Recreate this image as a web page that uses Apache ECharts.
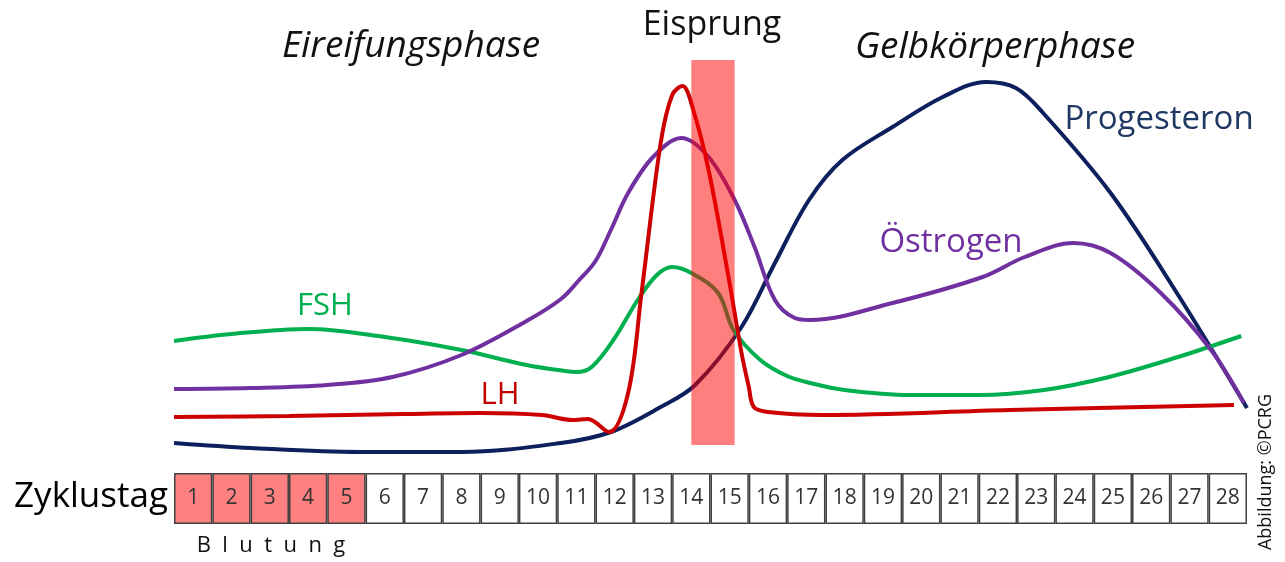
<!DOCTYPE html>
<html>
<head>
<meta charset="utf-8">
<script src="https://cdn.jsdelivr.net/npm/echarts@6/dist/echarts.min.js"></script>
<style>
  html, body { margin: 0; padding: 0; background: #fff; }
  #chart { width: 1285px; height: 562px; }
</style>
</head>
<body>
<div id="chart"></div>
<script>
// Zyklustage (Kästchen unten)
const days = Array.from({length: 28}, (_, i) => String(i + 1));
const bleedingDays = 5;

// Hormonkurven: [Zyklusposition in Tagen, relativer Spiegel]
const fsh = [[0,132],[1.5,139],[3.5,144],[5.5,136],[7.5,123],[9.2,108],[10.2,102],[10.5,101],[10.9,106],
  [11.5,135],[12.1,173],[12.6,198],[13.0,206],[13.5,200],[14.2,180],[14.6,143],[15.3,113],[16.0,97],
  [16.6,90],[17.5,83],[19.2,78],[21,78],[22.7,83],[24.4,96],[26.2,116],[27.85,137]];
const lh = [[0,56],[3,57],[6,59],[8,60],[9.6,58],[10.4,53],[10.8,54],[11.35,41],[11.85,80],[12.2,180],
  [12.7,330],[13.0,378],[13.27,387],[13.55,363],[13.95,303],[14.47,196],[14.81,120],[15.0,86],[15.13,66],
  [15.5,61],[16.9,58],[21.8,63],[27.66,68]];
const estrogen = [[0,84],[2,85],[4,88],[5.7,96],[7.5,118],[9.2,152],[10.1,174],[10.55,192],[11,212],
  [11.4,243],[11.85,280],[12.5,316],[13.24,335],[13.95,316],[14.63,273],[15.15,226],[15.68,173],[16.2,155],
  [16.6,153],[18.75,170],[21.1,196],[22.2,216],[23.47,230],[24.44,220],[25.75,180],[27.06,123],[27.92,70]];
const progesterone = [[0,30],[2,25],[4.85,21],[7.5,21],[10.1,30],[11.4,41],[12.7,66],[13.6,88],[14.81,146],
  [15.68,210],[16.57,273],[17.44,313],[18.75,346],[20.06,376],[21.19,391],[21.97,385],[22.68,360],
  [24.44,280],[26.17,180],[28,65]];

// Eisprung-Band: [von Tag, bis Tag, unten, oben]
const ovulation = [[13.5, 14.63, 28, 413]];

const chart = echarts.init(document.getElementById('chart'));

const lineSeries = (name, data, color) => ({
  name: name,
  type: 'line',
  xAxisIndex: 0,
  yAxisIndex: 0,
  data: data,
  smooth: 0.35,
  showSymbol: false,
  lineStyle: {color: color, width: 4},
  z: 3
});

const label = (text, x, y, size, color, extra) => ({
  type: 'text',
  x: x,
  y: y,
  style: Object.assign({
    text: text,
    fontFamily: 'Open Sans',
    fontSize: size,
    fill: color,
    align: 'center',
    verticalAlign: 'middle'
  }, extra || {})
});

const option = {
  animation: false,
  backgroundColor: '#fff',
  grid: [
    {left: 174, right: 38, top: 60, height: 413},
    {left: 174, right: 38, top: 473, height: 51}
  ],
  xAxis: [
    {type: 'value', gridIndex: 0, min: 0, max: 28, show: false},
    {type: 'category', gridIndex: 1, data: days, show: false}
  ],
  yAxis: [
    {type: 'value', gridIndex: 0, min: 0, max: 413, show: false},
    {type: 'value', gridIndex: 1, min: 0, max: 1, show: false}
  ],
  series: [
    lineSeries('Progesteron', progesterone, '#0d1f5c'),
    lineSeries('FSH', fsh, '#00b050'),
    lineSeries('Östrogen', estrogen, '#7030a0'),
    lineSeries('LH', lh, '#cc0000'),
    {
      name: 'Eisprung',
      type: 'custom',
      xAxisIndex: 0,
      yAxisIndex: 0,
      data: ovulation,
      encode: {x: [0, 1], y: [2, 3]},
      z: 10,
      renderItem: function (params, api) {
        const p0 = api.coord([api.value(0), api.value(3)]);
        const p1 = api.coord([api.value(1), api.value(2)]);
        return {
          type: 'rect',
          shape: {x: p0[0], y: p0[1], width: p1[0] - p0[0], height: p1[1] - p0[1]},
          style: {fill: 'rgba(255,0,0,0.5)'}
        };
      }
    },
    {
      name: 'Zyklustag',
      type: 'bar',
      xAxisIndex: 1,
      yAxisIndex: 1,
      barCategoryGap: '0%',
      data: days.map((d, i) => ({
        value: 1,
        itemStyle: {color: i < bleedingDays ? '#ff8080' : '#fff'}
      })),
      itemStyle: {borderColor: '#404040', borderWidth: 1.5},
      label: {
        show: true,
        position: 'inside',
        formatter: '{b}',
        fontFamily: 'Open Sans',
        fontSize: 21,
        color: '#333'
      }
    }
  ],
  graphic: [
    label('Eireifungsphase', 411, 46, 37, '#111', {fontStyle: 'italic'}),
    label('Eisprung', 712, 25, 34, '#111'),
    label('Gelbkörperphase', 995, 47, 37, '#111', {fontStyle: 'italic'}),
    label('Progesteron', 1159, 120, 33, '#1f3864'),
    label('Östrogen', 951, 243, 33, '#7030a0'),
    label('FSH', 325, 306, 31, '#00b050'),
    label('LH', 500, 395, 31, '#c00000'),
    label('Zyklustag', 91, 497, 35, '#000'),
    label('B  l  u  t  u  n  g', 271, 546, 22, '#111'),
    {
      type: 'text',
      x: 1266,
      y: 472,
      rotation: Math.PI / 2,
      style: {
        text: 'Abbildung: ©PCRG',
        fontFamily: 'Open Sans',
        fontSize: 18,
        fill: '#111',
        align: 'center',
        verticalAlign: 'middle'
      }
    }
  ]
};

chart.setOption(option);
</script>
</body>
</html>
